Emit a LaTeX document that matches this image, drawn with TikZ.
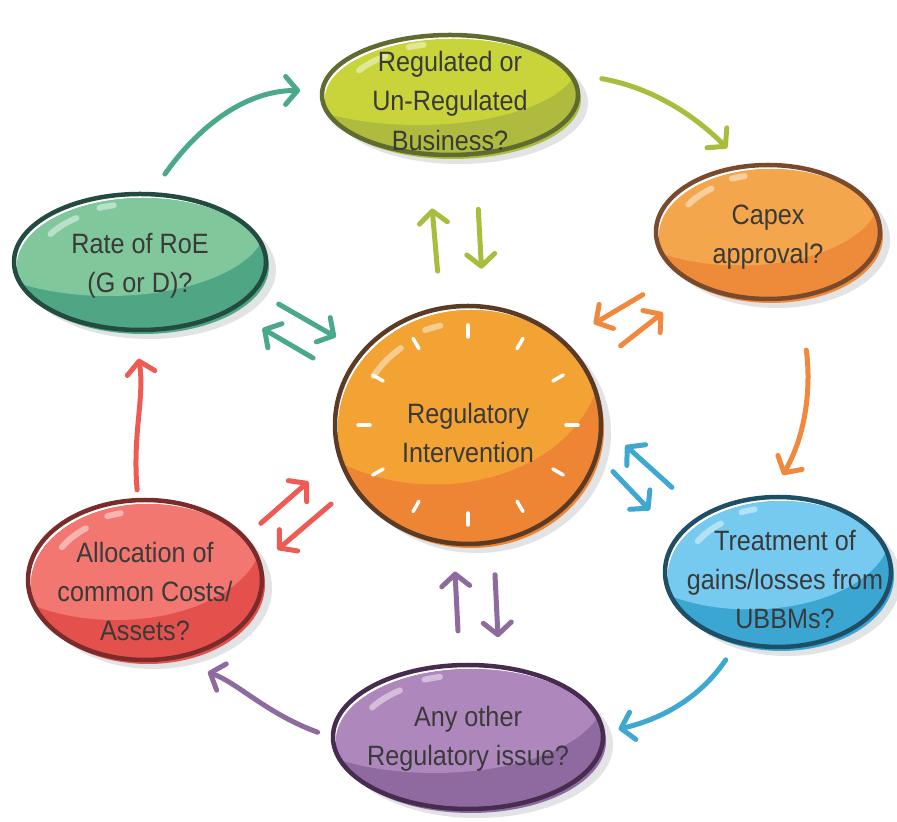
\documentclass[tikz,border=0pt]{standalone}
\usepackage{fontspec}
\setmainfont{Liberation Sans}[FakeStretch=0.9]
\usetikzlibrary{shapes.geometric,arrows.meta,calc}

\definecolor{textgray}{HTML}{3A3A3A}
\definecolor{shadowgray}{HTML}{E2E3E5}
% light fill, dark fill, outline, arrow
\definecolor{ylight}{HTML}{C9D43A}
\definecolor{ydark}{HTML}{AEBB3E}
\definecolor{yline}{HTML}{5F6B30}
\definecolor{yarrow}{HTML}{A9BD3D}
\definecolor{olight}{HTML}{F3A64C}
\definecolor{odark}{HTML}{EE8B3A}
\definecolor{oline}{HTML}{7A4A2C}
\definecolor{oarrow}{HTML}{F0893D}
\definecolor{clight}{HTML}{F2A333}
\definecolor{cdark}{HTML}{EE8535}
\definecolor{cline}{HTML}{5C3B24}
\definecolor{blight}{HTML}{76CAEF}
\definecolor{bdark}{HTML}{3CA6D2}
\definecolor{bline}{HTML}{1F4F66}
\definecolor{barrow}{HTML}{3EA8D0}
\definecolor{plight}{HTML}{AE88BD}
\definecolor{pdark}{HTML}{8E6AA0}
\definecolor{pline}{HTML}{482C50}
\definecolor{parrow}{HTML}{8D6B9F}
\definecolor{rlight}{HTML}{F27770}
\definecolor{rdark}{HTML}{E4514C}
\definecolor{rline}{HTML}{7B2B29}
\definecolor{rarrow}{HTML}{EE5B55}
\definecolor{glight}{HTML}{80C79C}
\definecolor{gdark}{HTML}{4FA684}
\definecolor{gline}{HTML}{244B3F}
\definecolor{garrow}{HTML}{4BA98B}

\tikzset{
  blobline/.style={ellipse, line width=4.5pt, inner sep=0pt},
  blobtext/.style={align=center, text=textgray, font=\fontsize{28}{39}\selectfont},
  flow/.style={line width=5pt, line cap=round, -{Straight Barb[length=12pt, width=28pt, round]}},
  glint/.style={white, opacity=.45, line width=6pt, line cap=round},
}

% name, x, y, x radius, y radius, light, dark, outline
\newcommand{\blob}[8]{%
  \fill[shadowgray] (#2+9,#3-8) ellipse [x radius=#4+1, y radius=#5+1];
  \fill[#7] (#2+3,#3-4) ellipse [x radius=#4, y radius=#5];
  \begin{scope}
    \clip (#2+3,#3-4) ellipse [x radius=#4, y radius=#5];
    \fill[#6] (#2-0.25*#4,#3+0.55*#5) ellipse [x radius=1.25*#4, y radius=1.05*#5];
  \end{scope}
  \draw[glint] ($(#2,#3)+(128:{0.82*#4} and {0.82*#5})$) arc [start angle=128, end angle=150, x radius=0.82*#4, y radius=0.82*#5];
  \draw[glint] ($(#2,#3)+(104:{0.86*#4} and {0.86*#5})$) arc [start angle=104, end angle=112, x radius=0.86*#4, y radius=0.86*#5];
  \node[blobline, draw=#8, minimum width=2*#4, minimum height=2*#5] (#1) at (#2,#3) {};
}

\begin{document}
\begin{tikzpicture}[x=1pt, y=1pt]
  \useasboundingbox (0,0) rectangle (897,822);

  % blobs
  \blob{reg}{450}{727}{128}{60}{ylight}{ydark}{yline}
  \blob{capex}{768}{590}{112}{67}{olight}{odark}{oline}
  \blob{treat}{778}{250}{113}{75}{blight}{bdark}{bline}
  \blob{other}{468}{85}{135}{72}{plight}{pdark}{pline}
  \blob{alloc}{145}{242}{117}{80}{rlight}{rdark}{rline}
  \blob{rate}{140}{560}{126}{68}{glight}{gdark}{gline}
  \blob{c}{468}{397}{133}{119}{clight}{cdark}{cline}
  \foreach \a in {0,30,...,330}
    \draw[white, line width=3.5pt, line cap=round] ($(c)+(\a:98 and 88)$) -- ($(c)+(\a:110 and 100)$);

  % outer cycle
  \draw[flow, garrow, shorten <=22pt, shorten >=20pt] (rate.80) to[out=55, in=180] (reg.178);
  \draw[flow, yarrow, shorten <=30pt, shorten >=23pt] (reg.10) to[out=-10, in=135] (capex.110);
  \draw[flow, oarrow, shorten <=52pt, shorten >=23pt] (capex.-65) to[out=-82, in=60] (treat.95);
  \draw[flow, barrow, shorten <=19pt, shorten >=14pt] (treat.-120) to[out=-124, in=13] (other.2);
  \draw[flow, parrow, shorten <=14pt, shorten >=36pt] (other.180) to[out=160, in=-20] (alloc.-70);
  \draw[flow, rarrow, shorten <=8pt, shorten >=27pt] (alloc.95) to[out=95, in=-80] (rate.-95);

  % to and from the centre
  \draw[flow, yarrow] ($(c)!0.47!(reg)!22pt!90:(reg)$) -- ($(c)!0.66!(reg)!24pt!90:(reg)$);
  \draw[flow, yarrow] ($(c)!0.65!(reg)!-22pt!90:(reg)$) -- ($(c)!0.47!(reg)!-22pt!90:(reg)$);
  \draw[flow, oarrow] ($(c)!0.61!(capex)!15pt!90:(capex)$) -- ($(c)!0.45!(capex)!17pt!90:(capex)$);
  \draw[flow, oarrow] ($(c)!0.48!(capex)!-16pt!90:(capex)$) -- ($(c)!0.63!(capex)!-11pt!90:(capex)$);
  \draw[flow, barrow] ($(c)!0.615!(treat)!31pt!90:(treat)$) -- ($(c)!0.44!(treat)!49pt!90:(treat)$);
  \draw[flow, barrow] ($(c)!0.44!(treat)!20pt!90:(treat)$) -- ($(c)!0.585!(treat)!1pt!90:(treat)$);
  \draw[flow, parrow] ($(c)!0.66!(other)!-10pt!90:(other)$) -- ($(c)!0.47!(other)!-13pt!90:(other)$);
  \draw[flow, parrow] ($(c)!0.48!(other)!27pt!90:(other)$) -- ($(c)!0.68!(other)!30pt!90:(other)$);
  \draw[flow, rarrow] ($(c)!0.64!(alloc)!-1pt!90:(alloc)$) -- ($(c)!0.47!(alloc)!-18pt!90:(alloc)$);
  \draw[flow, rarrow] ($(c)!0.44!(alloc)!12pt!90:(alloc)$) -- ($(c)!0.63!(alloc)!30pt!90:(alloc)$);
  \draw[flow, garrow] ($(c)!0.61!(rate)!-24pt!90:(rate)$) -- ($(c)!0.43!(rate)!-20pt!90:(rate)$);
  \draw[flow, garrow] ($(c)!0.46!(rate)!9pt!90:(rate)$) -- ($(c)!0.62!(rate)!5pt!90:(rate)$);

  % texts
  \node[blobtext] (regtxt) at ([yshift=-6pt]reg.center) {Regulated or\\Un-Regulated\\Business?};
  \node[blobtext] (capextxt) at ([yshift=-5pt]capex.center) {Capex\\approval?};
  \node[blobtext] (treattxt) at ([xshift=7pt, yshift=-8pt]treat.center) {Treatment of\\gains/losses from\\UBBMs?};
  \node[blobtext] (othertxt) at ([yshift=-2pt]other.center) {Any other\\Regulatory issue?};
  \node[blobtext] (alloctxt) at ([yshift=-11pt]alloc.center) {Allocation of\\common Costs/\\Assets?};
  \node[blobtext] (ratetxt) at ([yshift=-4pt]rate.center) {Rate of RoE\\(G or D)?};
  \node[blobtext] (ctxt) at ([yshift=-8pt]c.center) {Regulatory\\Intervention};
\end{tikzpicture}
\end{document}
